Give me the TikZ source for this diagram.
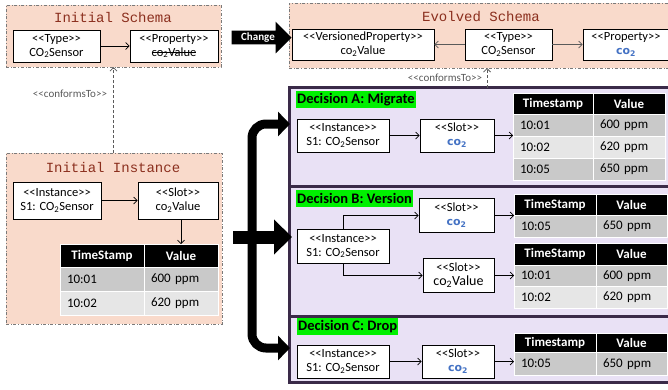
\documentclass[tikz,border=0pt]{standalone}
\usepackage{fontspec}
\setmainfont{Carlito}
\newfontfamily\monofont{Liberation Mono}
\newfontfamily\widefont{DejaVu Sans}
\usetikzlibrary{arrows.meta,shapes.arrows}

\definecolor{schemafill}{HTML}{F9DACB}
\definecolor{framegray}{HTML}{7A7A7A}
\definecolor{titlered}{HTML}{8B2F1E}
\definecolor{panelfill}{HTML}{E9E1F5}
\definecolor{panelline}{HTML}{3A2A48}
\definecolor{decgreen}{HTML}{00F000}
\definecolor{coblue}{HTML}{4472C4}
\definecolor{rowdark}{HTML}{C9C9C9}
\definecolor{rowlight}{HTML}{E6E6E6}
\definecolor{linkgray}{HTML}{5A5A5A}

% stereotype brackets, struck-out text and the renamed property
\newcommand{\stereo}[1]{{<}{<}#1{>}{>}}
\newsavebox{\strikebox}
\newcommand{\struck}[1]{\sbox{\strikebox}{#1}\rlap{\rule[0.28em]{\wd\strikebox}{0.7pt}}\usebox{\strikebox}}
\newcommand{\coname}{{\widefont\bfseries\color{coblue}\fontsize{11}{12}\selectfont co\textsubscript{2}}}

% table of readings: name, left, top, column widths, header height, row height, first header, rows
\newcommand{\valuetable}[9]{%
  \node[headcell, minimum width=#4, minimum height=#6] (#1-h1) at (#2,#3) {#8};
  \node[headcell, minimum width=#5, minimum height=#6] (#1-h2) at (#1-h1.north east) {Value};
  \pgfmathsetmacro{\cola}{#4-14}
  \pgfmathsetmacro{\colb}{#5-14}
  \foreach \stamp/\reading [count=\rownum] in {#9} {
    \pgfmathsetmacro{\rowy}{#3+#6+(\rownum-1)*#7}
    \ifodd\rownum \def\rowfill{rowdark}\else \def\rowfill{rowlight}\fi
    \node[datacell, fill=\rowfill, text width=\cola pt, minimum height=#7] (#1-r\rownum-a) at (#2,\rowy) {\stamp};
    \node[datacell, fill=\rowfill, text width=\colb pt, minimum height=#7] (#1-r\rownum-b) at (#1-r\rownum-a.north east) {\reading};
  }%
}

\tikzset{
  frame/.style={draw=framegray, fill=schemafill, dashdotted, line width=0.9pt, anchor=north west, inner sep=0pt, outer sep=0pt},
  title/.style={text=titlered, font=\monofont\fontsize{14}{16}\selectfont},
  panel/.style={draw=panelline, fill=panelfill, line width=3pt, anchor=north west, inner sep=0pt, outer sep=0pt, minimum width=390},
  umlbox/.style={draw, fill=white, line width=0.8pt, align=center, inner sep=0pt, font=\fontsize{12.5}{14}\selectfont},
  umlarrow/.style={-{Straight Barb[length=3.5pt,width=7pt]}, line width=0.7pt},
  conforms/.style={-{Straight Barb[length=3.5pt,width=7pt]}, draw=linkgray, line width=0.8pt, dash pattern=on 3pt off 2pt},
  conflabel/.style={text=linkgray, font=\fontsize{11}{13}\selectfont},
  headcell/.style={draw=white, fill=black, text=white, line width=1pt, anchor=north west, outer sep=0pt, inner sep=0pt, font=\bfseries\fontsize{13}{15}\selectfont},
  datacell/.style={draw=white, line width=1pt, anchor=north west, outer sep=0pt, inner xsep=7pt, inner ysep=0pt, align=left, font=\fontsize{13}{15}\selectfont},
  decision/.style={fill=decgreen, anchor=north west, inner xsep=1pt, inner ysep=0pt, minimum height=17, font=\bfseries\fontsize{14.5}{16}\selectfont},
  bigarrow/.style={line width=#1, draw=black},
}

\begin{document}
\begin{tikzpicture}[x=1pt,y=-1pt]
\clip (0,0) rectangle (668,389);

% schemas and initial instance
\node[frame, minimum width=215, minimum height=62] (iniSchema) at (6,5) {};
\node[title] (iniSchemaTitle) at (113,17) {Initial Schema};
\node[frame, minimum width=390, minimum height=65] (evoSchema) at (289,3) {};
\node[title] (evoSchemaTitle) at (481,17) {Evolved Schema};
\node[frame, minimum width=216, minimum height=171] (iniInst) at (6,153) {};
\node[title] (iniInstTitle) at (113,167) {Initial Instance};

% decision panels
\node[panel, minimum height=98.5] (decA) at (289,87.5) {};
\node[panel, minimum height=130] (decB) at (289,186) {};
\node[panel, minimum height=66] (decC) at (289,316) {};

% change arrow and the fork to the decisions
\node[single arrow, fill=black, text=white, inner xsep=3pt, inner ysep=2pt, single arrow head extend=9pt,
      minimum height=60, font=\bfseries\fontsize{11}{13}\selectfont] (change) at (258,37.5) {Change};
\coordinate (fork) at (252,237);
\coordinate (tipA) at (290,124);
\coordinate (tipC) at (290,348);
\draw[bigarrow=9pt, rounded corners=14pt, -{Triangle[length=12pt,width=24pt]}] (fork) |- (tipA);
\draw[bigarrow=9pt, rounded corners=14pt, -{Triangle[length=12pt,width=24pt]}] (fork) |- (tipC);
\draw[bigarrow=13pt, -{Triangle[length=18pt,width=34pt]}] (233,237) -- ([xshift=3pt]fork -| decB.west);

% initial schema
\node[umlbox, minimum width=87, minimum height=32] (iniType) at (56.5,46) {\stereo{Type}\\CO\textsubscript{2}Sensor};
\node[umlbox, minimum width=88, minimum height=32] (iniProp) at (174,46) {\stereo{Property}\\\struck{co\textsubscript{2}Value}};
\draw[umlarrow] (iniType) -- (iniProp);

% evolved schema
\node[umlbox, minimum width=142, minimum height=31] (evoVers) at (363,44.5) {\stereo{VersionedProperty}\\co\textsubscript{2}Value};
\node[umlbox, minimum width=87, minimum height=31] (evoType) at (508.5,44.5) {\stereo{Type}\\CO\textsubscript{2}Sensor};
\node[umlbox, minimum width=86, minimum height=31] (evoProp) at (626,44.5) {\stereo{Property}\\\coname};
\draw[umlarrow, linkgray] (evoType) -- (evoVers);
\draw[umlarrow, linkgray] (evoType) -- (evoProp);

% conformance links
\draw[conforms] (iniInst.north -| iniSchema.south) -- (iniSchema.south);
\node[conflabel] (iniConf) at (70,94) {\stereo{conformsTo}};
\coordinate (evoConf) at (487,68);
\draw[conforms] (evoConf |- decA.north) -- (evoConf);
\node[conflabel] (evoConfLabel) at (445,77.5) {\stereo{conformsTo}};

% initial instance
\node[umlbox, minimum width=88, minimum height=37] (iniObj) at (57,200.5) {\stereo{Instance}\\S1: CO\textsubscript{2}Sensor};
\node[umlbox, minimum width=80, minimum height=37] (iniSlot) at (178,200.5) {\stereo{Slot}\\co\textsubscript{2}Value};
\draw[umlarrow] (iniObj) -- (iniSlot);
\valuetable{iniTab}{60}{244}{84}{74}{23.5}{24}{TimeStamp}{10:01/600 ppm,10:02/620 ppm}
\draw[umlarrow] ([xshift=3pt]iniSlot.south) -- ([xshift=3pt]iniSlot.south |- iniTab-h2.north);

% decision A
\node[decision] (labA) at (296,91) {Decision A: Migrate};
\node[umlbox, minimum width=92, minimum height=33] (objA) at (343,135.5) {\stereo{Instance}\\S1: CO\textsubscript{2}Sensor};
\node[umlbox, minimum width=74, minimum height=33] (slotA) at (457,135.5) {\stereo{Slot}\\\coname};
\valuetable{tabA}{513}{93}{80}{72}{21}{22}{Timestamp}{10:01/600 ppm,10:02/620 ppm,10:05/650 ppm}
\draw[umlarrow] (objA) -- (slotA);
\draw[umlarrow] (slotA.east) -- (slotA.east -| tabA-r1-a.west);

% decision B
\node[decision] (labB) at (296,190) {Decision B: Version};
\node[umlbox, minimum width=92, minimum height=34] (objB) at (343,246) {\stereo{Instance}\\S1: CO\textsubscript{2}Sensor};
\node[umlbox, minimum width=75, minimum height=34] (slotB) at (456.5,215.5) {\stereo{Slot}\\\coname};
\node[umlbox, minimum width=71, minimum height=34] (slotBold) at (458.5,275.5) {\stereo{Slot}\\{\fontsize{14}{16}\selectfont co\textsubscript{2}Value}};
\valuetable{tabB}{514}{194}{82}{71}{21}{22}{TimeStamp}{10:05/650 ppm}
\valuetable{tabBold}{514}{243}{82}{71}{22}{21.5}{TimeStamp}{10:01/600 ppm,10:02/620 ppm}
\draw[umlarrow] (objB.north) |- (slotB.west);
\draw[umlarrow] (objB.south) |- (slotBold.west);
\draw[umlarrow] (slotB.east) -- (slotB.east -| tabB-h1.west);
\draw[umlarrow] (slotBold.east) -- (slotBold.east -| tabBold-r1-a.west);

% decision C
\node[decision] (labC) at (297,318) {Decision C: Drop};
\node[umlbox, minimum width=92, minimum height=33] (objC) at (343,361.5) {\stereo{Instance}\\S1: CO\textsubscript{2}Sensor};
\node[umlbox, minimum width=72, minimum height=33] (slotC) at (458,361.5) {\stereo{Slot}\\\coname};
\valuetable{tabC}{514}{333}{82}{71}{19.5}{22.5}{Timestamp}{10:05/650 ppm}
\draw[umlarrow] (objC) -- (slotC);
\draw[umlarrow] (slotC.east) -- (slotC.east -| tabC-r1-a.west);
\end{tikzpicture}
\end{document}
